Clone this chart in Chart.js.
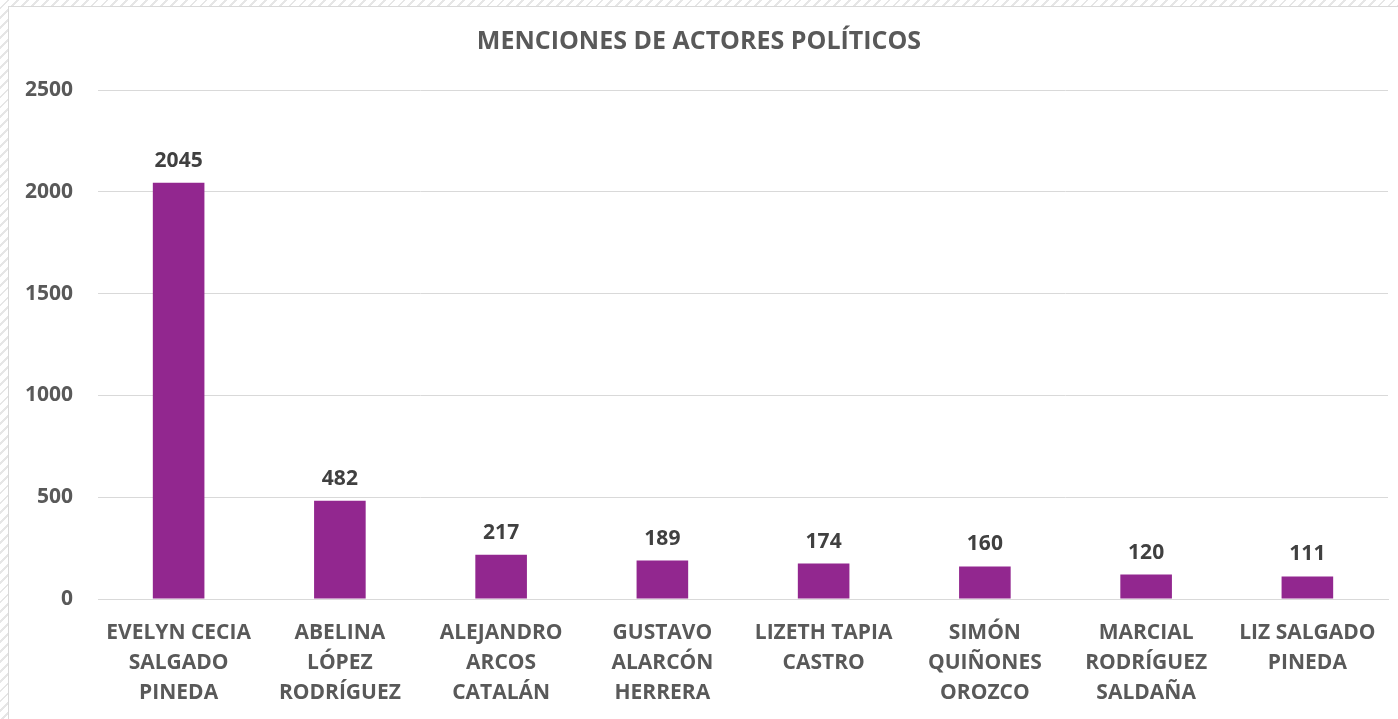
<!DOCTYPE html>
<html><head><meta charset="utf-8">
<script src="https://cdn.jsdelivr.net/npm/chart.js@4"></script>
<style>
html,body{margin:0;padding:0;width:1398px;height:719px;overflow:hidden;
background:repeating-linear-gradient(135deg,#ffffff 0px,#ffffff 5px,#e6e6e6 5px,#e6e6e6 7px);}
#box{position:absolute;left:8px;top:6px;width:1400px;height:720px;background:#fff;border:1px solid #d9d9d9;box-sizing:border-box;}
#wrap{position:absolute;left:1px;top:1px;width:1389px;height:712px;}
</style></head><body>
<div id="box"><div id="wrap"><canvas id="c" width="1389" height="712"></canvas></div></div>
<script>
const titleText = "MENCIONES DE ACTORES POLÍTICOS";
const categories = [
  ["EVELYN CECIA","SALGADO","PINEDA"],
  ["ABELINA","LÓPEZ","RODRÍGUEZ"],
  ["ALEJANDRO","ARCOS","CATALÁN"],
  ["GUSTAVO","ALARCÓN","HERRERA"],
  ["LIZETH TAPIA","CASTRO"],
  ["SIMÓN","QUIÑONES","OROZCO"],
  ["MARCIAL","RODRÍGUEZ","SALDAÑA"],
  ["LIZ SALGADO","PINEDA"]
];
const mentions = [2045, 482, 217, 189, 174, 160, 120, 111];
const yTicks = [0, 500, 1000, 1500, 2000, 2500];

const FONT = "'Open Sans', sans-serif";
const valueLabels = {
  id: 'valueLabels',
  afterDatasetsDraw(chart) {
    const ctx = chart.ctx;
    const meta = chart.getDatasetMeta(0);
    ctx.save();
    ctx.font = "bold 21px " + FONT;
    ctx.fillStyle = "#404040";
    ctx.textAlign = "center";
    ctx.textBaseline = "alphabetic";
    meta.data.forEach((bar, i) => {
      ctx.fillText(String(chart.data.datasets[0].data[i]), bar.x, bar.y - 16);
    });
    ctx.restore();
  }
};

new Chart(document.getElementById('c'), {
  type: 'bar',
  data: {
    labels: categories,
    datasets: [{
      data: mentions,
      backgroundColor: '#92278F',
      borderWidth: 0,
      barPercentage: 0.32,
      categoryPercentage: 1.0
    }]
  },
  options: {
    responsive: false,
    animation: false,
    layout: { padding: { left: 0, right: 11, top: 0, bottom: 0 } },
    plugins: {
      legend: { display: false },
      tooltip: { enabled: false },
      title: {
        display: true,
        text: titleText,
        color: '#595959',
        font: { family: FONT, size: 25, weight: 'bold', lineHeight: 1.2 },
        padding: { top: 19, bottom: 33 }
      }
    },
    scales: {
      y: {
        min: 0, max: 2500,
        afterBuildTicks(s) { s.ticks = yTicks.map(v => ({ value: v })); },
        afterFit(s) { s.width = 88; },
        ticks: {
          color: '#595959',
          font: { family: FONT, size: 21, weight: 'bold' },
          padding: 25,
          callback: (v) => String(v)
        },
        grid: { color: '#d9d9d9', lineWidth: 1, drawTicks: false },
        border: { display: false }
      },
      x: {
        afterFit(s) { s.height = 121; },
        ticks: {
          color: '#595959',
          font: { family: FONT, size: 21, weight: 'bold', lineHeight: 1.4286 },
          padding: 19,
          maxRotation: 0,
          autoSkip: false
        },
        grid: { display: false, drawTicks: false },
        border: { display: true, color: '#d9d9d9', width: 1 }
      }
    }
  },
  plugins: [valueLabels]
});
</script>
</body></html>
